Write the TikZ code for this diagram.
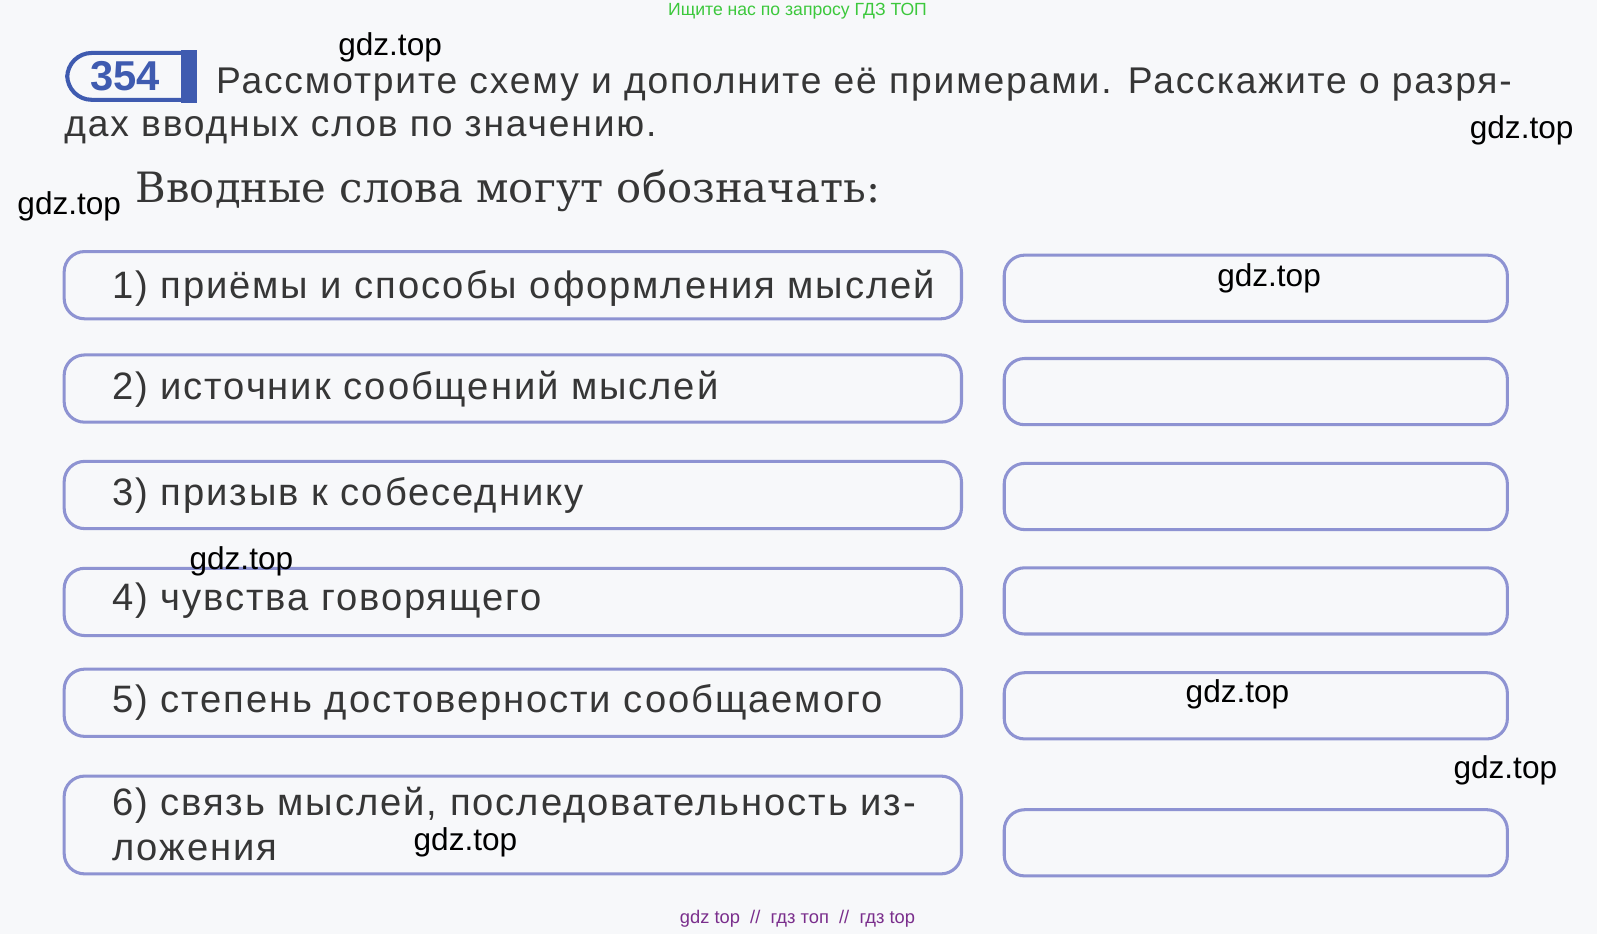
\documentclass[tikz,border=0pt]{standalone}
\usepackage{fontspec}
\setmainfont{Liberation Sans}
\newfontfamily\spacedsans[LetterSpace=5]{Liberation Sans}
\newfontfamily\headserif{DejaVu Serif}
\usepackage{tikz}
\definecolor{boxblue}{HTML}{8E93D2}
\definecolor{badgeblue}{HTML}{3F5BB0}
\definecolor{inktext}{HTML}{363636}
\definecolor{paper}{HTML}{F7F8FA}
\definecolor{gdzgreen}{HTML}{3CC83C}
\definecolor{gdzpurple}{HTML}{7A2E8C}

\begin{document}
\begin{tikzpicture}[x=1pt, y=-1pt,
    leftbox/.style ={draw=boxblue, line width=3, rounded corners=20, minimum width=881, minimum height=66, inner sep=0},
    rightbox/.style ={draw=boxblue, line width=3, rounded corners=20, minimum width=494, minimum height=65, inner sep=0},
    entry/.style ={anchor=west, inner sep=0, text=inktext, align=left, font=\fontsize{36.5}{45}\spacedsans},
    boxtext/.style ={entry, font=\fontsize{37.5}{45}\spacedsans},
    watermark/.style ={inner sep=0, text=black, font=\fontsize{31}{33}\selectfont}]
   \fill[paper] (0,0) rectangle (1568,917);
   \useasboundingbox (0,0) rectangle (1568,917);

   \node[inner sep=0, text=gdzgreen, font=\fontsize{17.3}{19}\selectfont] (top) at (783,11) {Ищите нас по запросу ГДЗ ТОП};
   \node[inner sep=0, text=gdzpurple, font=\fontsize{18}{20}\selectfont] (bottom) at (783,902) {gdz top \ // \ гдз топ \ // \ гдз top};

   \draw[badgeblue, line width=4, rounded corners=24] (184,52) -- (66,52) -- (66,98) -- (184,98);
   \fill[badgeblue] (178,49) rectangle (193,101);
   \node[inner sep=0, text=badgeblue, font=\fontsize{41}{43}\selectfont\bfseries] (num) at (123,75) {354};

   \node[entry] (task1) at (212,83) {Рассмотрите схему и дополните её примерами. Расскажите о разря-};
   \node[entry] (task2) at (63,128) {дах вводных слов по значению.};
   \node[entry, font=\fontsize{41}{44}\headserif] (head) at (133,187) {Вводные слова могут обозначать:};

   \node[leftbox] (L1) at (503.5,280) {};
   \node[leftbox] (L2) at (503.5,381.5) {};
   \node[leftbox] (L3) at (503.5,486) {};
   \node[leftbox] (L4) at (503.5,591) {};
   \node[leftbox] (L5) at (503.5,690) {};
   \node[leftbox, minimum height=96] (L6) at (503.5,810) {};

   \node[rightbox] (R1) at (1233,283) {};
   \node[rightbox] (R2) at (1233,384.5) {};
   \node[rightbox] (R3) at (1233,487.5) {};
   \node[rightbox] (R4) at (1233,590) {};
   \node[rightbox] (R5) at (1233,693) {};
   \node[rightbox] (R6) at (1233,827.5) {};

   \node[boxtext] (T1) at (110,283) {1) приёмы и способы оформления мыслей};
   \node[boxtext] (T2) at (110,382) {2) источник сообщений мыслей};
   \node[boxtext] (T3) at (110,486) {3) призыв к собеседнику};
   \node[boxtext] (T4) at (110,590) {4) чувства говорящего};
   \node[boxtext] (T5) at (110,690) {5) степень достоверности сообщаемого};
   \node[boxtext] (T6) at (110,809) {6) связь мыслей, последовательность из-\\ложения};

   \node[watermark] (W1) at (383,46) {gdz.top};
   \node[watermark] (W2) at (1494,128) {gdz.top};
   \node[watermark] (W3) at (68,203) {gdz.top};
   \node[watermark] (W4) at (1246,273) {gdz.top};
   \node[watermark] (W5) at (237,551) {gdz.top};
   \node[watermark] (W6) at (1215,682) {gdz.top};
   \node[watermark] (W7) at (1478,756) {gdz.top};
   \node[watermark] (W8) at (457,827) {gdz.top};
 \end{tikzpicture}
\end{document}
